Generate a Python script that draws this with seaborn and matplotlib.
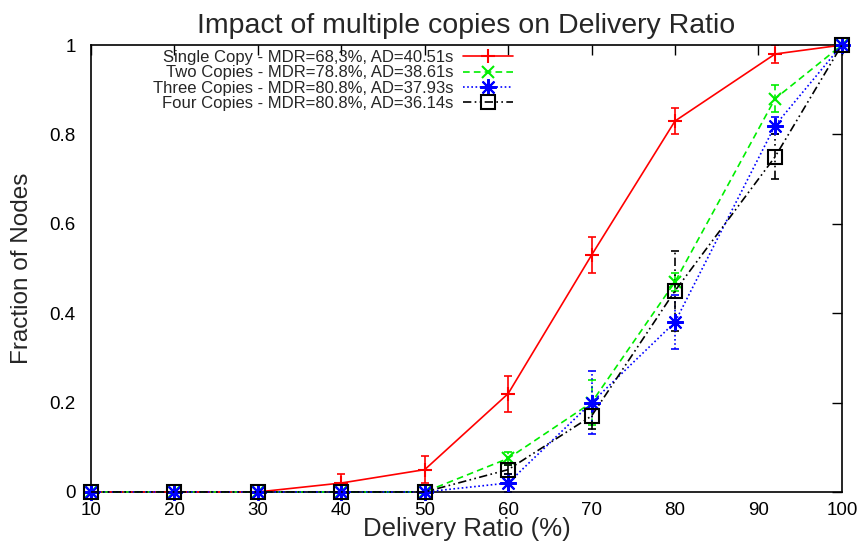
import numpy as np
import pandas as pd
import matplotlib
matplotlib.use("Agg")
import matplotlib.pyplot as plt
import seaborn as sns
from matplotlib.lines import Line2D
from matplotlib.ticker import FuncFormatter

# ---- data ----
x_vals = [10, 20, 30, 40, 50, 60, 70, 80, 92, 100]
single = [0, 0, 0, 0.02, 0.05, 0.22, 0.53, 0.83, 0.98, 1.0]
single_err = [0, 0, 0, 0.02, 0.03, 0.04, 0.04, 0.03, 0.02, 0]
two = [0, 0, 0, 0, 0, 0.075, 0.20, 0.47, 0.88, 1.0]
two_err = [0, 0, 0, 0, 0, 0.015, 0.05, 0.02, 0.03, 0]
three = [0, 0, 0, 0, 0, 0.02, 0.20, 0.38, 0.82, 1.0]
three_err = [0, 0, 0, 0, 0, 0.02, 0.07, 0.06, 0.02, 0]
four = [0, 0, 0, 0, 0, 0.05, 0.17, 0.45, 0.75, 1.0]
four_err = [0, 0, 0, 0, 0, 0.01, 0.03, 0.09, 0.05, 0]
labels = ["Single Copy - MDR=68,3%, AD=40.51s",
          "Two Copies - MDR=78.8%, AD=38.61s",
          "Three Copies - MDR=80.8%, AD=37.93s",
          "Four Copies - MDR=80.8%, AD=36.14s"]
x_ticks = [10, 20, 30, 40, 50, 60, 70, 80, 90, 100]
y_ticks = [0, 0.2, 0.4, 0.6, 0.8, 1.0]

sns.set_theme(style="white")
plt.rcParams["font.family"] = ["Liberation Sans", "DejaVu Sans"]

fig = plt.figure(figsize=(8.59, 5.43), dpi=100)
ax = fig.add_axes([0.106, 0.094, 0.874, 0.823])

series = [
    (single, single_err, "#ff0000", "-", "+", 10, "none"),
    (two, two_err, "#00ee00", (0, (4, 2.5)), "x", 9, "none"),
    (three, three_err, "#0000ff", (0, (1, 1.5)), (8, 2, 0), 12, "none"),
    (four, four_err, "#000000", (0, (5, 2, 1, 2, 1, 2)), "s", 10, "none"),
]

handles = []
for (vals, errs, color, ls, marker, ms, fc), lab in zip(series, labels):
    df = pd.DataFrame({"x": x_vals, "y": vals})
    sns.lineplot(data=df, x="x", y="y", ax=ax, color=color, linestyle=ls,
                 linewidth=1.2, marker=marker, markersize=ms,
                 markerfacecolor=fc, markeredgecolor=color,
                 markeredgewidth=1.5, errorbar=None, zorder=3, clip_on=False)
    eb = ax.errorbar(x_vals, vals, yerr=errs, fmt="none", ecolor=color,
                     elinewidth=1.2, capsize=2.7, capthick=1.2, zorder=2)
    for coll in eb[2]:
        coll.set_linestyle(ls)
    handles.append(Line2D([0], [0], color=color, linestyle=ls, linewidth=1.2,
                          marker=marker, markersize=ms, markerfacecolor=fc,
                          markeredgecolor=color, markeredgewidth=1.5))

ax.set_xlim(10, 100)
ax.set_ylim(0, 1)
ax.set_xticks(x_ticks)
ax.set_yticks(y_ticks)
ax.yaxis.set_major_formatter(FuncFormatter(lambda v, p: f"{v:g}"))
ax.tick_params(direction="in", length=7, width=1, top=True, right=True,
               labelsize=13.5, colors="black", pad=7)
ax.tick_params(axis="y", pad=11)
for s in ax.spines.values():
    s.set_color("black")
    s.set_linewidth(1.2)

ax.set_title("Impact of multiple copies on Delivery Ratio", fontsize=20.5, pad=9)
ax.set_xlabel("Delivery Ratio (%)", fontsize=18.5, labelpad=-1)
ax.set_ylabel("Fraction of Nodes", fontsize=17.5, labelpad=12)

ax.legend(handles, labels, loc="upper left", bbox_to_anchor=(0.069, 1.011),
          frameon=False, markerfirst=False, fontsize=12, handlelength=3.0,
          labelspacing=0.02, handletextpad=0.6, borderaxespad=0.2)

fig.savefig("out.png", dpi=100)
